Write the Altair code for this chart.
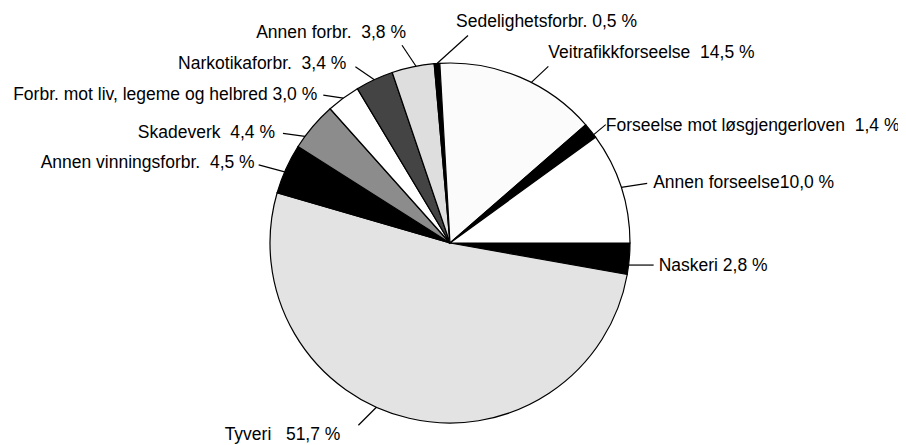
import math
import altair as alt
import pandas as pd

# ---- data (slice order, clockwise from 3 o'clock) ----
categories = [
    "Naskeri", "Tyveri", "Annen vinningsforbr.", "Skadeverk",
    "Forbr. mot liv, legeme og helbred", "Narkotikaforbr.", "Annen forbr.",
    "Sedelighetsforbr.", "Veitrafikkforseelse",
    "Forseelse mot løsgjengerloven", "Annen forseelse",
]
shares = [2.8, 51.7, 4.5, 4.4, 3.0, 3.4, 3.8, 0.5, 14.5, 1.4, 10.0]
NB = "\u00a0"
label_texts = [
    "Naskeri 2,8 %",
    "Tyveri" + NB * 3 + "51,7 %",
    "Annen vinningsforbr." + NB * 2 + "4,5 %",
    "Skadeverk" + NB * 2 + "4,4 %",
    "Forbr. mot liv, legeme og helbred 3,0 %",
    "Narkotikaforbr." + NB * 2 + "3,4 %",
    "Annen forbr." + NB * 2 + "3,8 %",
    "Sedelighetsforbr. 0,5 %",
    "Veitrafikkforseelse" + NB * 2 + "14,5 %",
    "Forseelse mot løsgjengerloven" + NB * 2 + "1,4 %",
    "Annen forseelse10,0 %",
]

# ---- styles ----
fills = ["#000000", "#e3e3e3", "#000000", "#8c8c8c", "#ffffff", "#444444",
         "#dedede", "#000000", "#fbfbfb", "#000000", "#ffffff"]

# ---- label layout (leader-line edge shift in degrees, leader offsets, text offsets) ----
edge_shift = [2, 11, -1, -4, 0, 0, 1, 0, 4, 1.5, 0]
lead_dx = [25, -18, -26, -22, -20, -19, -14, 31, 17, 12, 26]
lead_dy = [0, 18, -7, -3, -3, -13, -21, -28, -16, -10, -4]
text_dx = [5, -18, -4, -8, -6, -9, 4, -12, 0, 0, 6]
text_dy = [1, 10, -2, 0, 0, -3, -12, -13, -13, 1, 0]
align = ["left", "right", "right", "right", "right", "right", "right",
         "left", "left", "left", "left"]

W, H = 890, 437
CX, CY, R = 442, 235, 180
FONT = "Liberation Sans, Arial"
FSIZE = 17.5

df = pd.DataFrame({
    "idx": list(range(len(categories))),
    "category": categories,
    "share": shares,
    "label": label_texts,
    "align": align,
})
total = sum(shares)
cum = df["share"].cumsum() - df["share"]
mid = (cum + df["share"] / 2) / total * 360 + 90
edge = mid + pd.Series(edge_shift)
rad = edge * math.pi / 180
df["ex"] = CX + R * rad.apply(math.sin)
df["ey"] = CY - R * rad.apply(math.cos)
df["ox"] = df["ex"] + pd.Series(lead_dx)
df["oy"] = df["ey"] + pd.Series(lead_dy)
df["tx"] = df["ox"] + pd.Series(text_dx)
df["ty"] = df["oy"] + pd.Series(text_dy)

xs = alt.Scale(domain=[0, W], range=[0, W], nice=False, zero=False)
ys = alt.Scale(domain=[0, H], range=[0, H], nice=False, zero=False)

base = alt.Chart(df)

pie = base.mark_arc(radius=R, stroke="black", strokeWidth=1.2).encode(
    theta=alt.Theta("share:Q", stack=True,
                    scale=alt.Scale(domain=[0, total],
                                    range=[math.pi / 2, math.pi / 2 + 2 * math.pi])),
    color=alt.Color("category:N", legend=None,
                    scale=alt.Scale(domain=categories, range=fills)),
    order=alt.Order("idx:Q"),
    x=alt.value(CX),
    y=alt.value(CY),
)

leaders = base.mark_rule(color="black", strokeWidth=1.2).encode(
    x=alt.X("ex:Q", scale=xs, axis=None),
    y=alt.Y("ey:Q", scale=ys, axis=None),
    x2="ox:Q",
    y2="oy:Q",
)

text_left = base.transform_filter(alt.datum.align == "left").mark_text(
    align="left", baseline="middle", font=FONT, fontSize=FSIZE, color="black"
).encode(
    x=alt.X("tx:Q", scale=xs, axis=None),
    y=alt.Y("ty:Q", scale=ys, axis=None),
    text="label:N",
)

text_right = base.transform_filter(alt.datum.align == "right").mark_text(
    align="right", baseline="middle", font=FONT, fontSize=FSIZE, color="black"
).encode(
    x=alt.X("tx:Q", scale=xs, axis=None),
    y=alt.Y("ty:Q", scale=ys, axis=None),
    text="label:N",
)

chart = alt.layer(pie, leaders, text_left, text_right).properties(
    width=W, height=H, padding=0,
    autosize=alt.AutoSizeParams(type="none"),
).configure_view(stroke=None)

chart.save("out.html", embed_options={"renderer": "svg", "actions": False})
